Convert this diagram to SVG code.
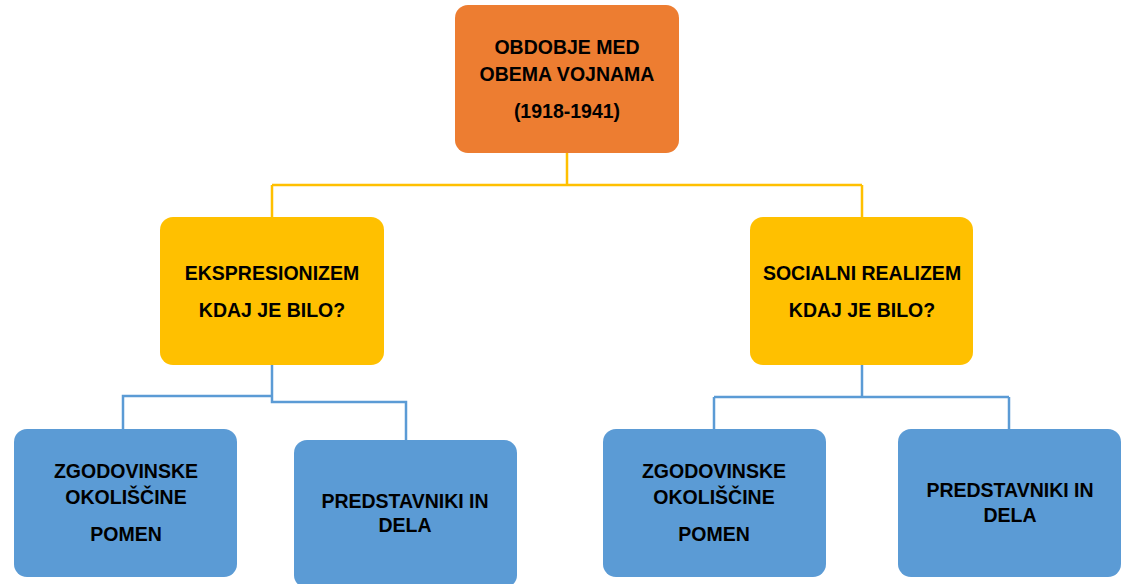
<svg xmlns="http://www.w3.org/2000/svg" width="1132" height="584" viewBox="0 0 1132 584">
<style>
.t{font-family:"Liberation Sans",Arial,sans-serif;font-weight:bold;font-size:19.5px;fill:#000;text-anchor:middle}
.or{fill:#ED7D31}
.ye{fill:#FFC000}
.bl{fill:#5B9BD5}
.cy{fill:none;stroke:#FFC000;stroke-width:2.5}
.cb{fill:none;stroke:#5B9BD5;stroke-width:2.5}
</style>
<rect width="1132" height="584" fill="#fff"/>
<g id="connectors">
<path class="cy" d="M567 153 V185 M272 185 H862 M272 185 V217 M862 185 V217"/>
<path class="cb" d="M272 365 V402 H406 V440 M272 396 H123 V429"/>
<path class="cb" d="M862 365 V397 M714 397 H1009 M714 397 V429 M1009 397 V429"/>
</g>
<g id="top">
<rect class="or" x="455" y="5" width="224" height="148" rx="13"/>
<text class="t" x="567" y="54">OBDOBJE MED</text>
<text class="t" x="567" y="81">OBEMA VOJNAMA</text>
<text class="t" x="567" y="118">(1918-1941)</text>
</g>
<g id="ekspresionizem">
<rect class="ye" x="160" y="217" width="224" height="148" rx="13"/>
<text class="t" x="272" y="280">EKSPRESIONIZEM</text>
<text class="t" x="272" y="317">KDAJ JE BILO?</text>
</g>
<g id="socialni">
<rect class="ye" x="750" y="217" width="223" height="148" rx="13"/>
<text class="t" x="862" y="280">SOCIALNI REALIZEM</text>
<text class="t" x="862" y="317">KDAJ JE BILO?</text>
</g>
<g id="e-zgod">
<rect class="bl" x="14" y="429" width="223" height="148" rx="13"/>
<text class="t" x="126" y="478">ZGODOVINSKE</text>
<text class="t" x="126" y="504">OKOLIŠČINE</text>
<text class="t" x="126" y="541">POMEN</text>
</g>
<g id="e-pred">
<rect class="bl" x="294" y="440" width="223" height="148" rx="13"/>
<text class="t" x="405" y="508">PREDSTAVNIKI IN</text>
<text class="t" x="405" y="532">DELA</text>
</g>
<g id="s-zgod">
<rect class="bl" x="603" y="429" width="223" height="148" rx="13"/>
<text class="t" x="714" y="478">ZGODOVINSKE</text>
<text class="t" x="714" y="504">OKOLIŠČINE</text>
<text class="t" x="714" y="541">POMEN</text>
</g>
<g id="s-pred">
<rect class="bl" x="898" y="429" width="223" height="148" rx="13"/>
<text class="t" x="1010" y="497">PREDSTAVNIKI IN</text>
<text class="t" x="1010" y="522">DELA</text>
</g>
</svg>
